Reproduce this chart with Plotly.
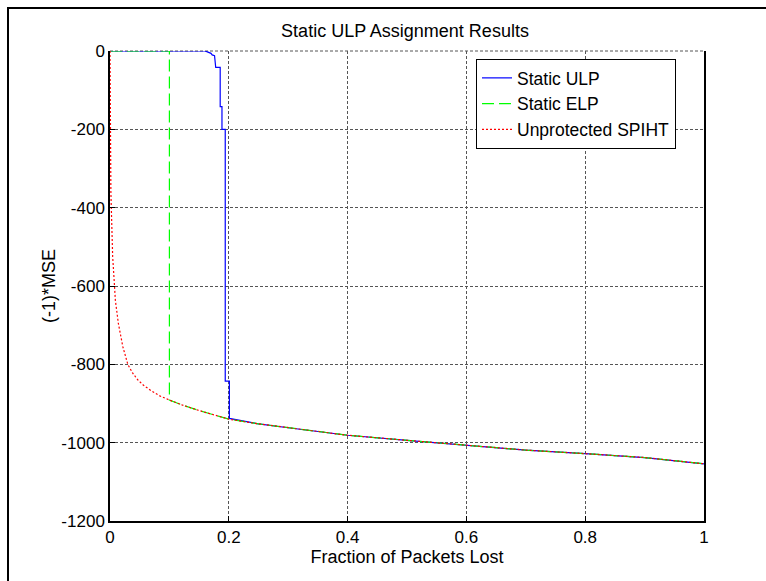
import plotly.graph_objects as go

# ---- data ----
spiht_x = [0, 0.0003, 0.0008, 0.0015, 0.0022, 0.0045, 0.0076, 0.009, 0.014, 0.0216,
           0.030, 0.038, 0.047, 0.056, 0.069, 0.083, 0.1, 0.12, 0.15, 0.2, 0.25, 0.3,
           0.4, 0.5, 0.6, 0.7, 0.8, 0.9, 1.0]
spiht_y = [0, -150, -280, -360, -400, -525, -600, -636, -695, -755,
           -800, -822, -840, -853, -867, -880, -891, -903, -918, -940, -952, -962,
           -981, -994, -1007, -1019, -1028, -1038, -1054]

elp_head_x = [0, 0.1, 0.1]
elp_head_y = [0, 0, -891]

ulp_head_x = [0, 0.160, 0.165, 0.170, 0.172, 0.176, 0.178, 0.1855, 0.1855, 0.1885,
              0.1885, 0.194, 0.194, 0.201, 0.201]
ulp_head_y = [0, 0, -3, -6, -10, -12, -42, -42, -142, -142,
              -200, -200, -843, -843, -938]

x_ticks = [0, 0.2, 0.4, 0.6, 0.8, 1]
x_tick_labels = ["0", "0.2", "0.4", "0.6", "0.8", "1"]
y_ticks = [0, -200, -400, -600, -800, -1000, -1200]
y_tick_labels = ["0", "-200", "-400", "-600", "-800", "-1000", "-1200"]

# derived series
elp_x = elp_head_x + [x for x in spiht_x if x > elp_head_x[-1]]
elp_y = elp_head_y + [y for x, y in zip(spiht_x, spiht_y) if x > elp_head_x[-1]]
ulp_x = ulp_head_x + [x for x in spiht_x if x > ulp_head_x[-1]]
ulp_y = ulp_head_y + [y for x, y in zip(spiht_x, spiht_y) if x > ulp_head_x[-1]]

FONT = "Liberation Sans, Arial, sans-serif"

fig = go.Figure()
fig.add_trace(go.Scatter(x=ulp_x, y=ulp_y, mode="lines", name="Static ULP",
                         line=dict(color="#0000ff", width=1.2)))
fig.add_trace(go.Scatter(x=elp_x, y=elp_y, mode="lines", name="Static ELP",
                         line=dict(color="#00ff00", width=1.2, dash="12px,5px")))
fig.add_trace(go.Scatter(x=spiht_x, y=spiht_y, mode="lines", name="Unprotected SPIHT",
                         line=dict(color="#ff0000", width=1.2, dash="2px,2px")))

L, R, T, B = 110, 62, 51, 60
W, H = 766, 581
pw, ph = W - L - R, H - T - B


def px_x(px):
    return (px - L) / pw


def px_y(py):
    return (H - B - py) / ph


fig.update_layout(
    width=W, height=H,
    margin=dict(l=L, r=R, t=T, b=B),
    paper_bgcolor="white", plot_bgcolor="white",
    font=dict(family=FONT, size=17, color="black"),
    title=dict(text="Static ULP Assignment Results", x=px_x(405), xref="paper",
               xanchor="center", y=1 - 31 / H, yanchor="middle",
               font=dict(size=18, color="black")),
    showlegend=True,
    legend=dict(x=px_x(476), y=px_y(59), xanchor="left", yanchor="top",
                bgcolor="white", bordercolor="black", borderwidth=1,
                font=dict(size=17.5, color="black"),
                entrywidth=198, entrywidthmode="pixels"),
    xaxis=dict(range=[0, 1], tickvals=x_ticks, ticktext=x_tick_labels,
               showline=True, linecolor="black", linewidth=1.5,
               ticks="inside", ticklen=5, tickcolor="black",
               showgrid=True, gridcolor="#555555", griddash="3px,2px", gridwidth=1,
               zeroline=False,
               title=dict(text="Fraction of Packets Lost", standoff=4,
                          font=dict(size=18, color="black"))),
    yaxis=dict(range=[-1200, 0], tickvals=y_ticks, ticktext=y_tick_labels,
               showline=True, linecolor="black", linewidth=1.5, mirror=True,
               ticks="inside", ticklen=5, tickcolor="black",
               showgrid=True, gridcolor="#555555", griddash="3px,2px", gridwidth=1,
               zeroline=False,
               title=dict(text="(-1)*MSE", standoff=1,
                          font=dict(size=18, color="black"))),
    shapes=[
        dict(type="line", xref="paper", yref="paper", x0=px_x(7), x1=px_x(766),
             y0=px_y(8), y1=px_y(8), line=dict(color="black", width=2)),
        dict(type="line", xref="paper", yref="paper", x0=px_x(8), x1=px_x(8),
             y0=px_y(7), y1=px_y(581), line=dict(color="black", width=2)),
        dict(type="line", xref="paper", yref="paper", x0=0, x1=1,
             y0=1, y1=1, line=dict(color="#555555", width=1, dash="3px,2px"),
             layer="below"),
    ],
)

fig.write_html("out.html")
